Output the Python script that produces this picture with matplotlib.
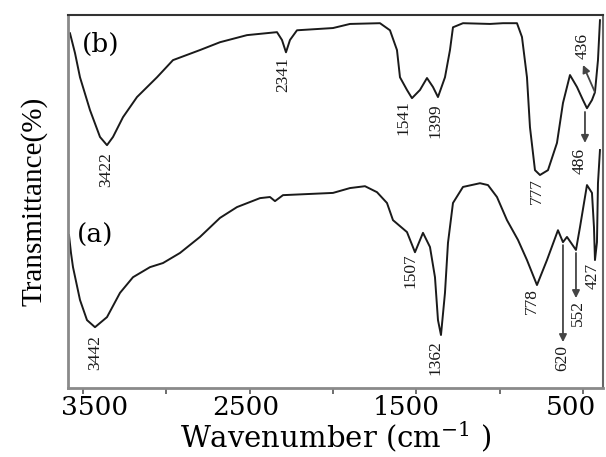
import matplotlib
matplotlib.use("Agg")
import matplotlib.pyplot as plt
import matplotlib.transforms as mtransforms
import numpy as np

# ---- data ----
wn_b = [3578, 3548, 3518, 3458, 3398, 3356, 3320, 3260, 3176, 3056, 2960, 2798, 2678,
        2516, 2336, 2306, 2282, 2258, 2216, 2000, 1898, 1718, 1658, 1616, 1598, 1556,
        1526, 1478, 1436, 1400, 1370, 1328, 1298, 1280, 1220, 1058, 980, 896, 866, 836,
        818, 788, 758, 710, 656, 620, 578, 536, 500, 476, 446, 428, 410, 398]
tr_b = [95.1, 89.8, 83.3, 74.5, 67.3, 65.1, 67.3, 72.6, 78.0, 83.3, 87.9, 90.6, 92.7,
        94.6, 95.4, 93.3, 90.0, 93.3, 95.9, 96.5, 97.6, 97.8, 95.9, 90.6, 83.3, 79.9,
        77.7, 79.9, 83.1, 80.7, 78.0, 83.3, 90.6, 96.7, 97.8, 97.6, 97.8, 97.8, 94.1, 83.3,
        69.9, 58.4, 57.1, 58.4, 65.7, 76.4, 83.9, 80.7, 77.2, 75.0, 77.2, 79.3, 87.9, 98.6]

wn_a = [3584, 3572, 3560, 3518, 3476, 3428, 3356, 3278, 3200, 3098, 3020, 2918, 2798,
        2678, 2576, 2438, 2378, 2348, 2300, 2000, 1898, 1808, 1736, 1676, 1640, 1556,
        1508, 1460, 1418, 1388, 1370, 1352, 1328, 1310, 1280, 1220, 1118, 1070, 1016,
        956, 890, 836, 776, 716, 650, 620, 596, 542, 518, 476, 446, 434, 428, 416, 410, 398]
tr_a = [41.0, 36.2, 32.4, 23.6, 18.2, 16.3, 19.0, 25.5, 29.7, 32.4, 33.5, 36.2, 40.5,
        45.6, 48.5, 50.9, 51.2, 50.1, 51.7, 52.3, 53.6, 54.1, 52.5, 49.6, 45.0, 41.8,
        36.4, 41.6, 37.8, 29.7, 18.2, 14.2, 25.5, 38.9, 49.6, 53.9, 54.9, 54.4, 51.2,
        45.0, 39.7, 34.3, 27.6, 34.3, 42.3, 39.1, 40.5, 37.0, 43.1, 54.4, 52.3, 43.1,
        34.3, 39.1, 54.9, 63.8]

xticks = [3500, 3000, 2500, 2000, 1500, 1000, 500]
xticklabels = ["3500", "", "2500", "", "1500", "", "500"]

peak_labels_b = ["3422", "2341", "1541", "1399", "777", "486", "436"]
peak_labels_a = ["3442", "1507", "1362", "778", "620", "552", "427"]

# label placements (x, top-y) in data coordinates
pos_b = [(3362, 63.2), (2300, 88.7), (1580, 77.2), (1388, 76.4), (776, 56.3), (518, 64.3), (500, 95.1)]
pos_a = [(3428, 14.2), (1538, 36.2), (1388, 12.9), (806, 26.8), (626, 11.5), (530, 23.6), (440, 33.5)]

fig = plt.figure(figsize=(6.06, 4.57), dpi=100)
ax = fig.add_axes([0.1122, 0.151, 0.8828, 0.8162])

line_kw = dict(color="#1a1a1a", lw=1.4)
ax.plot(wn_b, tr_b, **line_kw)
ax.plot(wn_a, tr_a, **line_kw)

ax.set_xlim(3590, 380)
ax.set_ylim(0, 100)

ax.set_xticks(xticks)
ax.set_xticklabels([""] * len(xticks))
ax.set_yticks([])
ax.tick_params(axis="x", direction="out", length=4, width=1.2, color="#555555", pad=2)

# tick labels drawn as text, with small horizontal nudges (pixels) as in the reference
tick_nudge = [12, 0, -4, 0, -10, 0, -12]
base = mtransforms.blended_transform_factory(ax.transData, ax.transAxes)
for x, t, dx in zip(xticks, xticklabels, tick_nudge):
    if t:
        tr = base + mtransforms.ScaledTranslation(dx / 100, -7 / 100, fig.dpi_scale_trans)
        ax.text(x, 0, t, transform=tr, ha="center", va="top",
                fontfamily="DejaVu Serif", fontsize=19, clip_on=False)

for s in ["left", "bottom"]:
    ax.spines[s].set_color("#8a8a8a")
    ax.spines[s].set_linewidth(2.0)
ax.spines["top"].set_color("#333333")
ax.spines["top"].set_linewidth(1.5)
ax.spines["right"].set_color("#666666")
ax.spines["right"].set_linewidth(1.5)

ax.set_xlabel("Wavenumber (cm$^{\\mathregular{-1}}$ )", fontfamily="DejaVu Serif",
              fontsize=21)
ax.xaxis.set_label_coords(0.5, -0.084)
ax.xaxis.label.set_va("top")
ax.set_ylabel("Transmittance(%)", fontfamily="Liberation Serif", fontsize=21, labelpad=15)

lab_kw = dict(rotation=90, ha="center", va="top", fontfamily="Liberation Serif",
              fontsize=12.5, color="#1a1a1a")
for t, (x, y) in zip(peak_labels_b, pos_b):
    ax.text(x, y, t, **lab_kw)
for t, (x, y) in zip(peak_labels_a, pos_a):
    ax.text(x, y, t, **lab_kw)

ax.text(3505, 92, "(b)", fontfamily="DejaVu Serif", fontsize=19, va="center", ha="left")
ax.text(3535, 41, "(a)", fontfamily="DejaVu Serif", fontsize=19, va="center", ha="left")

arr = dict(arrowstyle="-|>", color="#444444", lw=1.3, mutation_scale=11,
           shrinkA=0, shrinkB=0)
ax.annotate("", xy=(500, 86.6), xytext=(428, 79.3), arrowprops=arr)
ax.annotate("", xy=(488, 65.7), xytext=(488, 74.0), arrowprops=arr)
ax.annotate("", xy=(620, 12.3), xytext=(620, 38.3), arrowprops=arr)
ax.annotate("", xy=(542, 24.1), xytext=(542, 36.2), arrowprops=arr)

fig.savefig("out.png", dpi=100)
